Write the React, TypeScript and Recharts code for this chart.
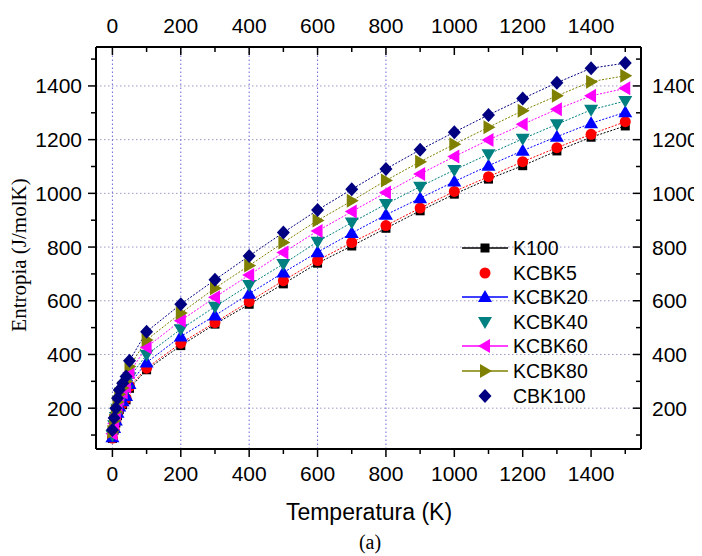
import React from 'react';
import { LineChart, Line, XAxis, YAxis, ReferenceLine } from 'recharts';

const T = [0, 5, 10, 15, 20, 30, 40, 50, 100, 200, 300, 400, 500, 600, 700, 800, 900, 1000, 1100, 1200, 1300, 1400, 1500];
const K100 = [87, 118, 145, 172, 195, 213, 231, 274, 343, 433, 513, 587, 663, 740, 804, 870, 935, 997, 1053, 1103, 1158, 1209, 1251];
const KCBK5 = [89, 121, 149, 177, 200, 218, 237, 281, 349, 442, 519, 597, 675, 750, 817, 880, 945, 1007, 1062, 1118, 1170, 1220, 1267];
const KCBK20 = [92, 126, 154, 183, 206, 226, 245, 290, 370, 467, 545, 626, 705, 781, 852, 920, 982, 1044, 1103, 1159, 1211, 1261, 1302];
const KCBK40 = [99, 136, 167, 198, 224, 245, 266, 315, 399, 494, 578, 659, 737, 820, 891, 960, 1025, 1087, 1146, 1203, 1257, 1311, 1344];
const KCBK60 = [105, 143, 176, 209, 236, 258, 280, 333, 427, 526, 613, 696, 780, 860, 932, 1003, 1072, 1137, 1199, 1257, 1313, 1363, 1391];
const KCBK80 = [112, 153, 188, 223, 252, 275, 299, 355, 454, 554, 647, 731, 817, 899, 972, 1048, 1118, 1183, 1246, 1308, 1363, 1416, 1438];
const CBK100 = [119, 163, 200, 237, 268, 293, 318, 377, 485, 587, 678, 767, 854, 938, 1015, 1091, 1162, 1228, 1292, 1353, 1412, 1466, 1485];

const SERIES_NAMES = ['K100', 'KCBK5', 'KCBK20', 'KCBK40', 'KCBK60', 'KCBK80', 'CBK100'];
const SERIES_VALUES = [K100, KCBK5, KCBK20, KCBK40, KCBK60, KCBK80, CBK100];
const SERIES_COLORS = ['#000000', '#ff0000', '#0000ff', '#008080', '#ff00ff', '#808000', '#000080'];
const SERIES_SHAPES = ['square', 'circle', 'up', 'down', 'left', 'right', 'diamond'];
const LEGEND_LINE = [true, false, true, false, true, true, false];

const X_TICKS = [0, 100, 200, 300, 400, 500, 600, 700, 800, 900, 1000, 1100, 1200, 1300, 1400, 1500];
const Y_TICKS = [100, 200, 300, 400, 500, 600, 700, 800, 900, 1000, 1100, 1200, 1300, 1400, 1500];
const X_GRID = [0, 200, 400, 600, 800];
const Y_GRID = [200, 400, 600, 800, 1000, 1200, 1400];
const X_DOMAIN = [-48, 1546];
const Y_DOMAIN = [48, 1545];

const data = T.map((t, i) => {
  const row: any = { T: t };
  SERIES_NAMES.forEach((n, k) => { row[n] = SERIES_VALUES[k][i]; });
  return row;
});

const SANS = '"Liberation Sans", Arial, sans-serif';
const SERIF = '"Liberation Serif", "Times New Roman", serif';

function Marker({ cx, cy, shape, color }: any) {
  switch (shape) {
    case 'square':
      return <rect x={cx - 4.5} y={cy - 4.5} width={9} height={9} fill={color} />;
    case 'circle':
      return <circle cx={cx} cy={cy} r={5.5} fill={color} />;
    case 'up':
      return <polygon points={`${cx},${cy - 7} ${cx - 7},${cy + 5} ${cx + 7},${cy + 5}`} fill={color} />;
    case 'down':
      return <polygon points={`${cx},${cy + 7} ${cx - 7},${cy - 5} ${cx + 7},${cy - 5}`} fill={color} />;
    case 'left':
      return <polygon points={`${cx - 7},${cy} ${cx + 5},${cy - 7} ${cx + 5},${cy + 7}`} fill={color} />;
    case 'right':
      return <polygon points={`${cx + 7},${cy} ${cx - 5},${cy - 7} ${cx - 5},${cy + 7}`} fill={color} />;
    default:
      return <polygon points={`${cx},${cy - 7} ${cx + 6.5},${cy} ${cx},${cy + 7} ${cx - 6.5},${cy}`} fill={color} />;
  }
}

const makeTick = (side: string) => (props: any) => {
  const { x, y, payload } = props;
  const v = payload.value;
  const major = v % 200 === 0;
  const len = major ? 8 : 5;
  const label = major ? String(v) : '';
  const common = { fontFamily: SANS, fontSize: 21, fill: '#000' };
  if (side === 'left') {
    return (
      <g>
        <line x1={x - len} y1={y} x2={x} y2={y} stroke="#000" strokeWidth={1.5} />
        <text x={x - 14} y={y} textAnchor="end" dominantBaseline="central" {...common}>{label}</text>
      </g>
    );
  }
  if (side === 'right') {
    return (
      <g>
        <line x1={x - len} y1={y} x2={x} y2={y} stroke="#000" strokeWidth={1.5} />
        <text x={x + 11} y={y} textAnchor="start" dominantBaseline="central" {...common}>{label}</text>
      </g>
    );
  }
  if (side === 'bottom') {
    return (
      <g>
        <line x1={x} y1={y} x2={x} y2={y + len} stroke="#000" strokeWidth={1.5} />
        <text x={x} y={y + 24} textAnchor="middle" dominantBaseline="central" {...common}>{label}</text>
      </g>
    );
  }
  return (
    <g>
      <line x1={x} y1={y} x2={x} y2={y + len} stroke="#000" strokeWidth={1.5} />
      <text x={x} y={y - 22} textAnchor="middle" dominantBaseline="central" {...common}>{label}</text>
    </g>
  );
};

export default function App() {
  return (
    <div style={{ position: 'relative', width: 694, height: 548, background: '#fff' }}>
      <LineChart width={694} height={540} data={data} margin={{ top: 0, right: 8, bottom: 59, left: 28 }}
        style={{ overflow: 'visible' }}>
        <XAxis xAxisId="b" dataKey="T" type="number" domain={X_DOMAIN} ticks={X_TICKS} interval={0}
          allowDataOverflow orientation="bottom" height={40} tickSize={0} tickMargin={0} tickLine={false}
          axisLine={{ stroke: '#000', strokeWidth: 2 }} tick={makeTick('bottom')} />
        <XAxis xAxisId="t" dataKey="T" type="number" domain={X_DOMAIN} ticks={X_TICKS} interval={0}
          allowDataOverflow orientation="top" height={39} tickSize={0} tickMargin={0} tickLine={false}
          axisLine={{ stroke: '#000', strokeWidth: 2 }} tick={makeTick('top')} />
        <YAxis yAxisId="l" type="number" domain={Y_DOMAIN} ticks={Y_TICKS} interval={0}
          allowDataOverflow orientation="left" width={60} tickSize={0} tickMargin={0} tickLine={false}
          axisLine={{ stroke: '#000', strokeWidth: 2 }} tick={makeTick('left')} />
        <YAxis yAxisId="r" type="number" domain={Y_DOMAIN} ticks={Y_TICKS} interval={0}
          allowDataOverflow orientation="right" width={53} tickSize={0} tickMargin={0} tickLine={false}
          axisLine={{ stroke: '#000', strokeWidth: 2 }} tick={makeTick('right')} />
        {Y_GRID.map((v) => (
          <ReferenceLine key={'h' + v} xAxisId="b" yAxisId="l" y={v} stroke="#9a9ac4" strokeWidth={1} strokeDasharray="1.5 2.5" />
        ))}
        {X_GRID.map((v) => (
          <ReferenceLine key={'v' + v} xAxisId="b" yAxisId="l" x={v} stroke="#6a6ad8" strokeWidth={1} strokeDasharray="1.5 2.5" />
        ))}
        {SERIES_NAMES.map((n, k) => (
          <Line key={n} xAxisId="b" yAxisId="l" type="linear" dataKey={n} stroke={SERIES_COLORS[k]}
            strokeWidth={1} strokeDasharray="2 1.5" isAnimationActive={false}
            dot={(p: any) => <Marker key={n + p.index} cx={p.cx} cy={p.cy} shape={SERIES_SHAPES[k]} color={SERIES_COLORS[k]} />}
            activeDot={false} />
        ))}
      </LineChart>
      <div style={{ position: 'absolute', left: 0, top: 0, width: 694, height: 548, pointerEvents: 'none' }}>
        {SERIES_NAMES.map((n, k) => (
          <div key={n} style={{ position: 'absolute', left: 452, top: 240 + k * 24.6 - 12, height: 24, display: 'flex', alignItems: 'center' }}>
            <svg width={50} height={24} style={{ display: 'block' }}>
              {LEGEND_LINE[k] ? <line x1={2} y1={12} x2={48} y2={12} stroke={SERIES_COLORS[k]} strokeWidth={1.3} /> : null}
              <Marker cx={25} cy={12} shape={SERIES_SHAPES[k]} color={SERIES_COLORS[k]} />
            </svg>
            <span style={{ marginLeft: 3, fontFamily: SANS, fontSize: 19.5, color: '#000', lineHeight: '24px', whiteSpace: 'nowrap' }}>{n}</span>
          </div>
        ))}
        <div style={{ position: 'absolute', left: 361, top: 504, transform: 'translate(-50%, -50%)', fontFamily: SANS, fontSize: 23, whiteSpace: 'nowrap', color: '#000' }}>
          Temperatura (K)
        </div>
        <div style={{ position: 'absolute', left: 362, top: 534, transform: 'translate(-50%, -50%)', fontFamily: SERIF, fontSize: 20, lineHeight: '22px', whiteSpace: 'nowrap', color: '#000' }}>
          (a)
        </div>
        <div style={{ position: 'absolute', left: 11, top: 247, transform: 'translate(-50%, -50%) rotate(-90deg)', fontFamily: SERIF, fontSize: 21, whiteSpace: 'nowrap', color: '#000' }}>
          Entropia (J/molK)
        </div>
      </div>
    </div>
  );
}
